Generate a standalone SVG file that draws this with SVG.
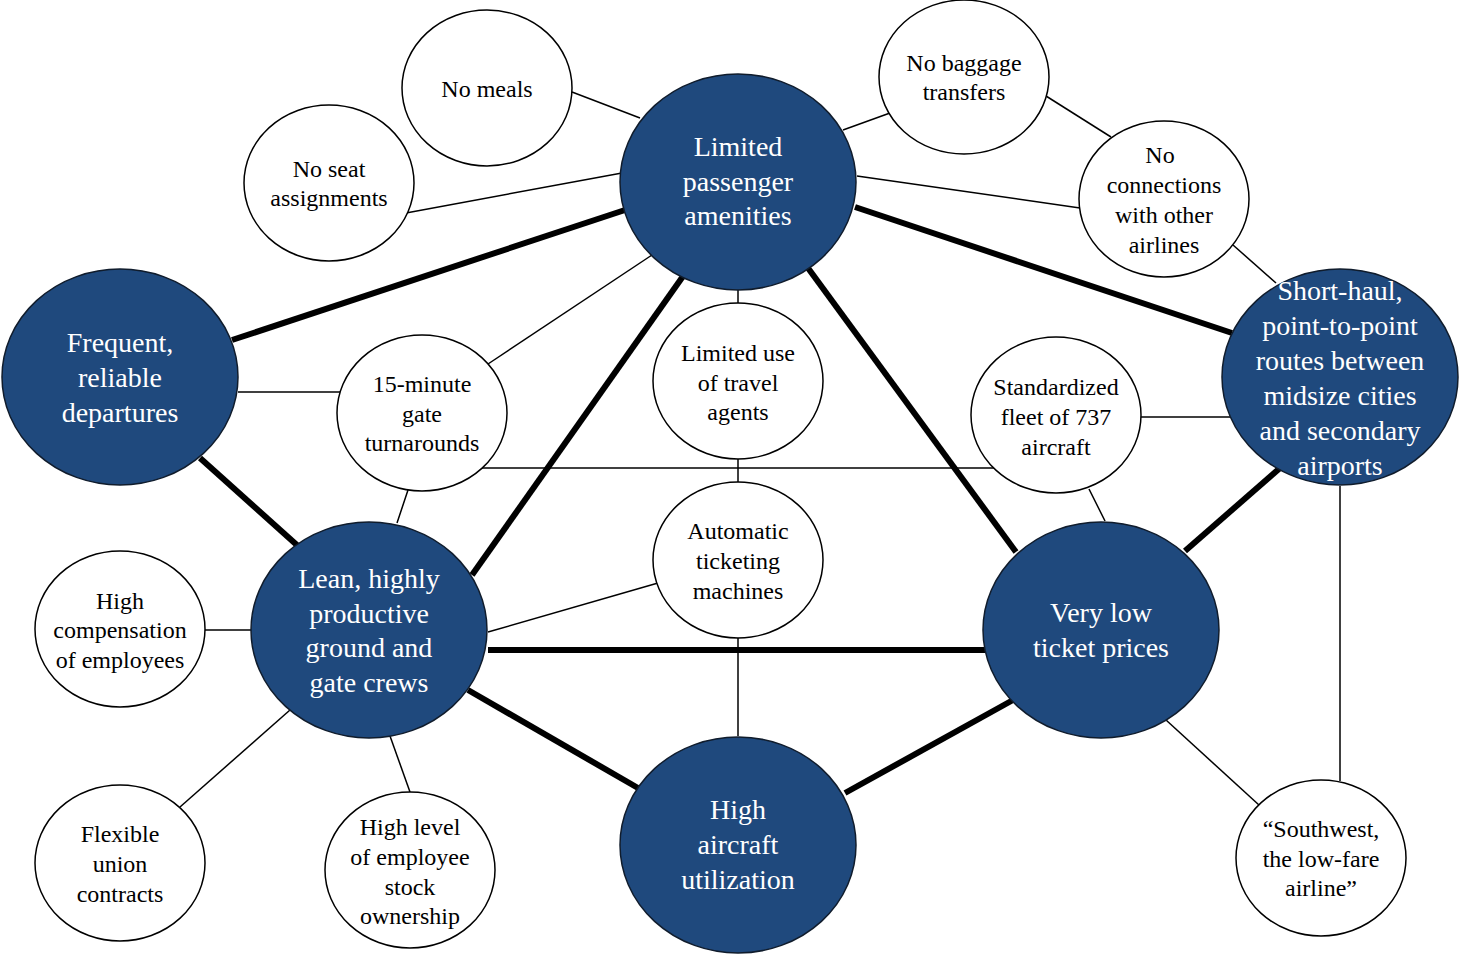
<svg xmlns="http://www.w3.org/2000/svg" width="1459" height="955" viewBox="0 0 1459 955">
<style>
.big{fill:#1f497d;stroke:#101c2c;stroke-width:1.5}
.sm{fill:#fff;stroke:#000;stroke-width:1.5}
.bt{font-family:"Liberation Serif","Times New Roman",serif;font-size:28px;fill:#fff;text-anchor:middle}
.st{font-family:"Liberation Serif","Times New Roman",serif;font-size:24px;fill:#000;text-anchor:middle}
.thick{stroke:#000;stroke-width:6;fill:none}
.thin{stroke:#000;stroke-width:1.5;fill:none}
</style>
<rect width="1459" height="955" fill="#fff"/>
<g id="connectors">
<line class="thick" x1="625" y1="210" x2="232" y2="340"/>
<line class="thick" x1="855" y1="207" x2="1232" y2="333"/>
<line class="thick" x1="686" y1="272" x2="472" y2="575"/>
<line class="thick" x1="808" y1="268" x2="1016" y2="552"/>
<line class="thick" x1="200" y1="458" x2="298" y2="546"/>
<line class="thick" x1="488" y1="650" x2="985" y2="650"/>
<line class="thick" x1="468" y1="690" x2="638" y2="788"/>
<line class="thick" x1="1013" y1="700" x2="845" y2="793"/>
<line class="thick" x1="1280" y1="468" x2="1185" y2="551"/>
<line class="thin" x1="572" y1="92" x2="640" y2="118"/>
<line class="thin" x1="406" y1="213" x2="622" y2="173"/>
<line class="thin" x1="890" y1="113" x2="843" y2="130"/>
<line class="thin" x1="1046" y1="96" x2="1111" y2="137"/>
<line class="thin" x1="857" y1="176" x2="1080" y2="208"/>
<line class="thin" x1="1233" y1="245" x2="1276" y2="283"/>
<line class="thin" x1="652" y1="255" x2="488" y2="364"/>
<line class="thin" x1="738" y1="290" x2="738" y2="303"/>
<line class="thin" x1="238" y1="392" x2="340" y2="392"/>
<line class="thin" x1="1141" y1="417" x2="1230" y2="417"/>
<line class="thin" x1="480" y1="468" x2="995" y2="468"/>
<line class="thin" x1="738" y1="459" x2="738" y2="483"/>
<line class="thin" x1="408" y1="490" x2="397" y2="523"/>
<line class="thin" x1="1089" y1="489" x2="1105" y2="521"/>
<line class="thin" x1="658" y1="583" x2="488" y2="632"/>
<line class="thin" x1="738" y1="638" x2="738" y2="736"/>
<line class="thin" x1="205" y1="630" x2="251" y2="630"/>
<line class="thin" x1="180" y1="807" x2="290" y2="710"/>
<line class="thin" x1="410" y1="792" x2="390" y2="736"/>
<line class="thin" x1="1166" y1="720" x2="1259" y2="805"/>
<line class="thin" x1="1340" y1="486" x2="1340" y2="781"/>
</g>
<g id="n-limited-amenities">
<ellipse class="big" cx="738" cy="182" rx="118" ry="108"/>
<text class="bt"><tspan x="738" y="156">Limited</tspan><tspan x="738" y="191">passenger</tspan><tspan x="738" y="225">amenities</tspan></text>
</g>
<g id="n-frequent">
<ellipse class="big" cx="120" cy="377" rx="118" ry="108"/>
<text class="bt"><tspan x="120" y="352">Frequent,</tspan><tspan x="120" y="387">reliable</tspan><tspan x="120" y="422">departures</tspan></text>
</g>
<g id="n-short-haul">
<ellipse class="big" cx="1340" cy="377" rx="118" ry="108"/>
<text class="bt"><tspan x="1340" y="300">Short-haul,</tspan><tspan x="1340" y="335">point-to-point</tspan><tspan x="1340" y="370">routes between</tspan><tspan x="1340" y="405">midsize cities</tspan><tspan x="1340" y="440">and secondary</tspan><tspan x="1340" y="475">airports</tspan></text>
</g>
<g id="n-lean-crews">
<ellipse class="big" cx="369" cy="630" rx="118" ry="108"/>
<text class="bt"><tspan x="369" y="588">Lean, highly</tspan><tspan x="369" y="623">productive</tspan><tspan x="369" y="657">ground and</tspan><tspan x="369" y="692">gate crews</tspan></text>
</g>
<g id="n-low-prices">
<ellipse class="big" cx="1101" cy="630" rx="118" ry="108"/>
<text class="bt"><tspan x="1101" y="622">Very low</tspan><tspan x="1101" y="657">ticket prices</tspan></text>
</g>
<g id="n-utilization">
<ellipse class="big" cx="738" cy="845" rx="118" ry="108"/>
<text class="bt"><tspan x="738" y="819">High</tspan><tspan x="738" y="854">aircraft</tspan><tspan x="738" y="889">utilization</tspan></text>
</g>
<g id="n-no-meals">
<ellipse class="sm" cx="487" cy="88" rx="85" ry="78"/>
<text class="st"><tspan x="487" y="97">No meals</tspan></text>
</g>
<g id="n-no-seat">
<ellipse class="sm" cx="329" cy="183" rx="85" ry="78"/>
<text class="st"><tspan x="329" y="177">No seat</tspan><tspan x="329" y="206">assignments</tspan></text>
</g>
<g id="n-no-baggage">
<ellipse class="sm" cx="964" cy="77" rx="85" ry="77"/>
<text class="st"><tspan x="964" y="71">No baggage</tspan><tspan x="964" y="100">transfers</tspan></text>
</g>
<g id="n-no-connections">
<ellipse class="sm" cx="1164" cy="199" rx="85" ry="78"/>
<text class="st"><tspan x="1160" y="163">No</tspan><tspan x="1164" y="193">connections</tspan><tspan x="1164" y="223">with other</tspan><tspan x="1164" y="253">airlines</tspan></text>
</g>
<g id="n-15-minute">
<ellipse class="sm" cx="422" cy="413" rx="85" ry="78"/>
<text class="st"><tspan x="422" y="392">15-minute</tspan><tspan x="422" y="422">gate</tspan><tspan x="422" y="451">turnarounds</tspan></text>
</g>
<g id="n-travel-agents">
<ellipse class="sm" cx="738" cy="381" rx="85" ry="78"/>
<text class="st"><tspan x="738" y="361">Limited use</tspan><tspan x="738" y="391">of travel</tspan><tspan x="738" y="420">agents</tspan></text>
</g>
<g id="n-standardized">
<ellipse class="sm" cx="1056" cy="415" rx="85" ry="78"/>
<text class="st"><tspan x="1056" y="395">Standardized</tspan><tspan x="1056" y="425">fleet of 737</tspan><tspan x="1056" y="455">aircraft</tspan></text>
</g>
<g id="n-ticketing">
<ellipse class="sm" cx="738" cy="560" rx="85" ry="78"/>
<text class="st"><tspan x="738" y="539">Automatic</tspan><tspan x="738" y="569">ticketing</tspan><tspan x="738" y="599">machines</tspan></text>
</g>
<g id="n-compensation">
<ellipse class="sm" cx="120" cy="629" rx="85" ry="78"/>
<text class="st"><tspan x="120" y="609">High</tspan><tspan x="120" y="638">compensation</tspan><tspan x="120" y="668">of employees</tspan></text>
</g>
<g id="n-union">
<ellipse class="sm" cx="120" cy="863" rx="85" ry="78"/>
<text class="st"><tspan x="120" y="842">Flexible</tspan><tspan x="120" y="872">union</tspan><tspan x="120" y="902">contracts</tspan></text>
</g>
<g id="n-stock">
<ellipse class="sm" cx="410" cy="870" rx="85" ry="78"/>
<text class="st"><tspan x="410" y="835">High level</tspan><tspan x="410" y="865">of employee</tspan><tspan x="410" y="895">stock</tspan><tspan x="410" y="924">ownership</tspan></text>
</g>
<g id="n-southwest">
<ellipse class="sm" cx="1321" cy="858" rx="85" ry="78"/>
<text class="st"><tspan x="1321" y="837">“Southwest,</tspan><tspan x="1321" y="867">the low-fare</tspan><tspan x="1321" y="896">airline”</tspan></text>
</g>
</svg>
